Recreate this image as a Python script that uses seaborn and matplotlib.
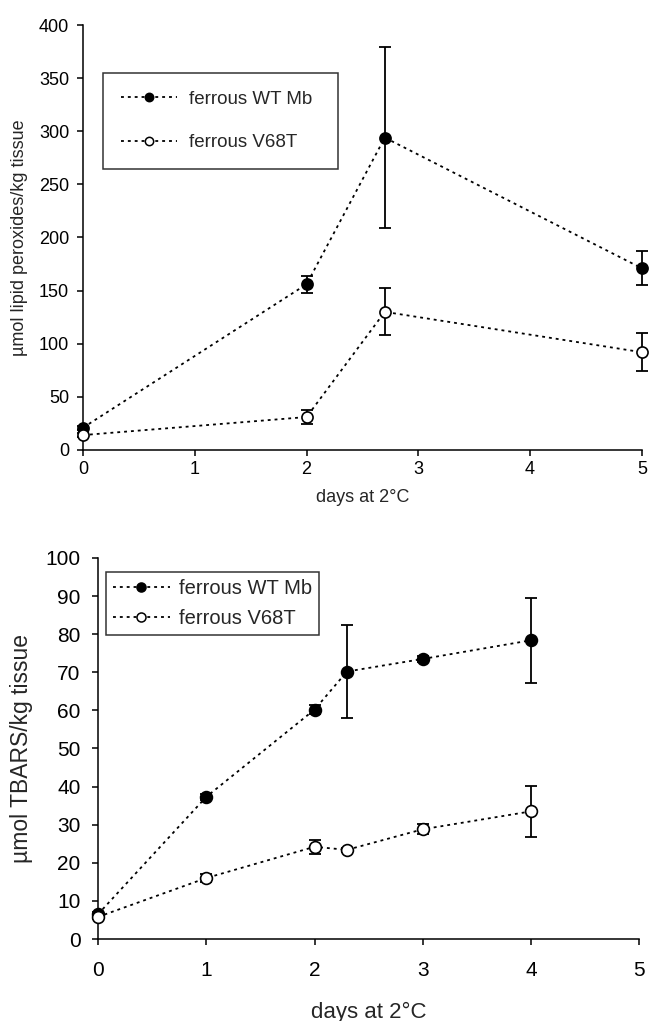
import matplotlib
matplotlib.use("Agg")
import matplotlib.pyplot as plt
import seaborn as sns
from matplotlib.lines import Line2D

sns.set_theme(style="ticks")
plt.rcParams["font.family"] = ["Liberation Sans", "DejaVu Sans"]

# Lipid peroxides (top panel)
lp_days_wt = [0, 2, 2.7, 5]
lp_wt = [21, 156, 294, 171]
lp_wt_err = [2, 8, 85, 16]
lp_days_v68t = [0, 2, 2.7, 5]
lp_v68t = [14, 31, 130, 92]
lp_v68t_err = [2, 7, 22, 18]

# TBARS (bottom panel)
tb_days_wt = [0, 1, 2, 2.3, 3, 4]
tb_wt = [6.5, 37.3, 60.2, 70.2, 73.5, 78.4]
tb_wt_err = [0.5, 0.8, 1.2, 12.3, 0.8, 11.2]
tb_days_v68t = [0, 1, 2, 2.3, 3, 4]
tb_v68t = [5.8, 16.0, 24.2, 23.4, 28.8, 33.5]
tb_v68t_err = [0.5, 1.0, 1.8, 0.5, 1.3, 6.6]

series_labels = ["ferrous WT Mb", "ferrous V68T"]
xlabel = "days at 2°C"
ylabel_top = "µmol lipid peroxides/kg tissue"
ylabel_bottom = "µmol TBARS/kg tissue"

fig = plt.figure(figsize=(6.49, 10.21), dpi=100)
ax1 = fig.add_axes([0.128, 0.5593, 0.861, 0.4162])
ax2 = fig.add_axes([0.151, 0.0803, 0.834, 0.3732])

dot = (0, (1.6, 2.2))


def draw_series(ax, x, y, err, face, label, ms):
    sns.lineplot(x=x, y=y, ax=ax, color="black", linestyle=dot, linewidth=1.3,
                 marker="o", markersize=ms, markerfacecolor=face,
                 markeredgecolor="black", markeredgewidth=1.2,
                 label=label, legend=False, clip_on=False, zorder=3)
    ax.errorbar(x, y, yerr=err, fmt="none", ecolor="black", elinewidth=1.3,
                capsize=4, capthick=1.3, clip_on=False, zorder=2)


def legend_handles(ms):
    return [Line2D([0], [0], color="black", linestyle=dot, linewidth=1.3,
                   marker="o", markersize=ms, markerfacecolor=f,
                   markeredgecolor="black", markeredgewidth=1.1)
            for f in ("black", "white")]


def style_axes(ax, fs, xpad, ypad, ticklen):
    for side in ("top", "right"):
        ax.spines[side].set_visible(False)
    for side in ("left", "bottom"):
        ax.spines[side].set_linewidth(1.1)
        ax.spines[side].set_color("black")
    ax.tick_params(axis="both", direction="out", length=ticklen, width=1.1,
                   colors="black", labelsize=fs)
    ax.tick_params(axis="x", pad=xpad)
    ax.tick_params(axis="y", pad=ypad)


# Top panel
draw_series(ax1, lp_days_wt, lp_wt, lp_wt_err, "black", series_labels[0], 8)
draw_series(ax1, lp_days_v68t, lp_v68t, lp_v68t_err, "white", series_labels[1], 8)
ax1.set_xlim(0, 5)
ax1.set_ylim(0, 400)
ax1.set_xticks(range(0, 6))
ax1.set_yticks(range(0, 401, 50))
style_axes(ax1, 13, 4, 6, 4)
ax1.set_xlabel(xlabel, fontsize=13, labelpad=8)
ax1.set_ylabel(ylabel_top, fontsize=13, labelpad=8)
leg1 = ax1.legend(legend_handles(6), series_labels, loc="upper left",
                  bbox_to_anchor=(0.036, 0.887, 0.42, 0), mode="expand",
                  frameon=True, fancybox=False,
                  edgecolor="black", fontsize=13.5, handlelength=3.0,
                  labelspacing=1.4, borderpad=0.95, handletextpad=0.6,
                  borderaxespad=0)
leg1.get_frame().set_linewidth(1.1)

# Bottom panel
draw_series(ax2, tb_days_wt, tb_wt, tb_wt_err, "black", series_labels[0], 8.5)
draw_series(ax2, tb_days_v68t, tb_v68t, tb_v68t_err, "white", series_labels[1], 8.5)
ax2.set_xlim(0, 5)
ax2.set_ylim(0, 100)
ax2.set_xticks(range(0, 6))
ax2.set_yticks(range(0, 101, 10))
style_axes(ax2, 15, 11, 8, 4.5)
ax2.set_xlabel(xlabel, fontsize=16, labelpad=16)
ax2.set_ylabel(ylabel_bottom, fontsize=16.5, labelpad=9)
leg2 = ax2.legend(legend_handles(6.5), series_labels, loc="upper left",
                  bbox_to_anchor=(0.015, 0.963), frameon=True, fancybox=False,
                  edgecolor="black", fontsize=14.5, handlelength=2.8,
                  labelspacing=0.55, borderpad=0.35, handletextpad=0.45,
                  borderaxespad=0)
leg2.get_frame().set_linewidth(1.1)

fig.savefig("out.png", dpi=100, facecolor="white")
